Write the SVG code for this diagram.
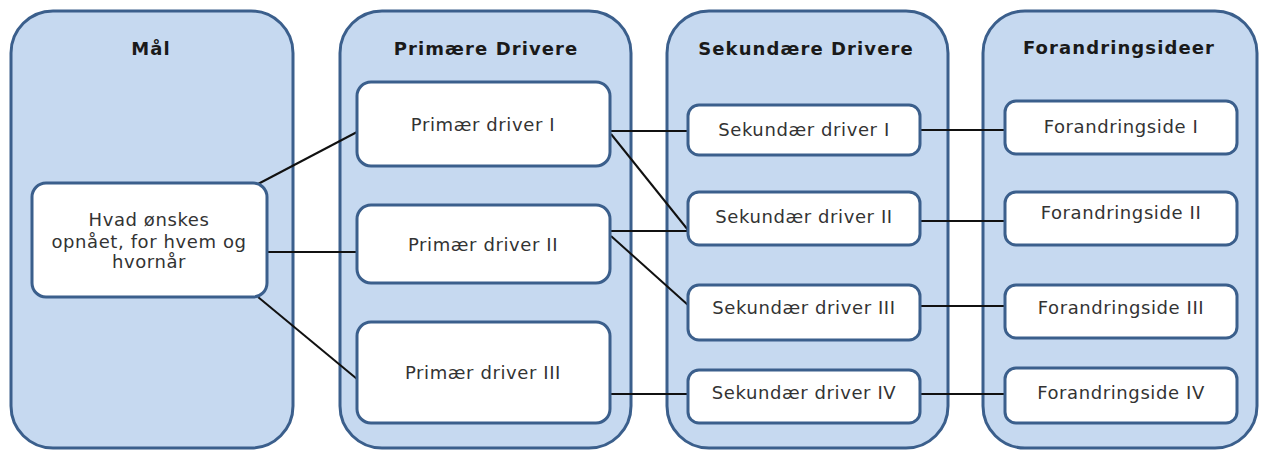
<svg xmlns="http://www.w3.org/2000/svg" width="1263" height="452" viewBox="0 0 1263 452">
  <style>
    .col { fill: #c6d9f0; stroke: #3b5f8c; stroke-width: 3; }
    .box { fill: #ffffff; stroke: #3b5f8c; stroke-width: 3; }
    .title { font-family: "DejaVu Sans", Verdana, sans-serif; font-weight: bold; font-size: 18px; letter-spacing: 1.1px; fill: #1a1a1a; text-anchor: middle; }
    .lbl { font-family: "DejaVu Sans", Verdana, sans-serif; font-size: 18px; letter-spacing: 0.6px; fill: #333333; text-anchor: middle; }
    .link { stroke: #111111; stroke-width: 2; fill: none; }
  </style>

  <rect width="1263" height="452" fill="#ffffff"/>

  <!-- column panels -->
  <g id="col-maal">
    <rect class="col" x="11" y="11" width="282" height="437" rx="42"/>
    <text class="title" x="151" y="55">Mål</text>
  </g>
  <g id="col-primaere">
    <rect class="col" x="340" y="11" width="291" height="437" rx="42"/>
    <text class="title" x="486" y="55">Primære Drivere</text>
  </g>
  <g id="col-sekundaere">
    <rect class="col" x="667" y="11" width="281" height="437" rx="42"/>
    <text class="title" x="806" y="55">Sekundære Drivere</text>
  </g>
  <g id="col-forandring">
    <rect class="col" x="983" y="11" width="274" height="437" rx="42"/>
    <text class="title" x="1119" y="54">Forandringsideer</text>
  </g>

  <!-- connectors -->
  <g id="connectors">
    <line class="link" x1="258" y1="184" x2="357" y2="132"/>
    <line class="link" x1="267" y1="252" x2="357" y2="252"/>
    <line class="link" x1="258" y1="297" x2="357" y2="379"/>
    <line class="link" x1="611" y1="131" x2="688" y2="131"/>
    <line class="link" x1="611" y1="134" x2="688" y2="230"/>
    <line class="link" x1="611" y1="231" x2="688" y2="231"/>
    <line class="link" x1="611" y1="236" x2="688" y2="305"/>
    <line class="link" x1="611" y1="394" x2="688" y2="394"/>
    <line class="link" x1="920" y1="130" x2="1005" y2="130"/>
    <line class="link" x1="920" y1="221" x2="1005" y2="221"/>
    <line class="link" x1="920" y1="306" x2="1005" y2="306"/>
    <line class="link" x1="920" y1="394" x2="1005" y2="394"/>
  </g>

  <!-- goal -->
  <g id="goal">
    <rect class="box" x="32" y="183" width="235" height="114" rx="14"/>
    <text class="lbl" x="149" y="226">Hvad ønskes</text>
    <text class="lbl" x="149" y="248">opnået, for hvem og</text>
    <text class="lbl" x="149" y="268">hvornår</text>
  </g>

  <!-- primary drivers -->
  <g id="primaer-1">
    <rect class="box" x="357" y="82" width="253" height="84" rx="14"/>
    <text class="lbl" x="483" y="131">Primær driver I</text>
  </g>
  <g id="primaer-2">
    <rect class="box" x="357" y="205" width="253" height="78" rx="14"/>
    <text class="lbl" x="483" y="251">Primær driver II</text>
  </g>
  <g id="primaer-3">
    <rect class="box" x="357" y="322" width="253" height="101" rx="14"/>
    <text class="lbl" x="483" y="379">Primær driver III</text>
  </g>

  <!-- secondary drivers -->
  <g id="sekundaer-1">
    <rect class="box" x="688" y="105" width="232" height="50" rx="11"/>
    <text class="lbl" x="804" y="136">Sekundær driver I</text>
  </g>
  <g id="sekundaer-2">
    <rect class="box" x="688" y="192" width="232" height="53" rx="11"/>
    <text class="lbl" x="804" y="223">Sekundær driver II</text>
  </g>
  <g id="sekundaer-3">
    <rect class="box" x="688" y="285" width="232" height="55" rx="11"/>
    <text class="lbl" x="804" y="314">Sekundær driver III</text>
  </g>
  <g id="sekundaer-4">
    <rect class="box" x="688" y="370" width="232" height="53" rx="11"/>
    <text class="lbl" x="804" y="399">Sekundær driver IV</text>
  </g>

  <!-- change ideas -->
  <g id="forandring-1">
    <rect class="box" x="1005" y="101" width="232" height="53" rx="11"/>
    <text class="lbl" x="1121" y="133">Forandringside I</text>
  </g>
  <g id="forandring-2">
    <rect class="box" x="1005" y="192" width="232" height="53" rx="11"/>
    <text class="lbl" x="1121" y="219">Forandringside II</text>
  </g>
  <g id="forandring-3">
    <rect class="box" x="1005" y="285" width="232" height="53" rx="11"/>
    <text class="lbl" x="1121" y="314">Forandringside III</text>
  </g>
  <g id="forandring-4">
    <rect class="box" x="1005" y="368" width="232" height="55" rx="11"/>
    <text class="lbl" x="1121" y="399">Forandringside IV</text>
  </g>
</svg>
